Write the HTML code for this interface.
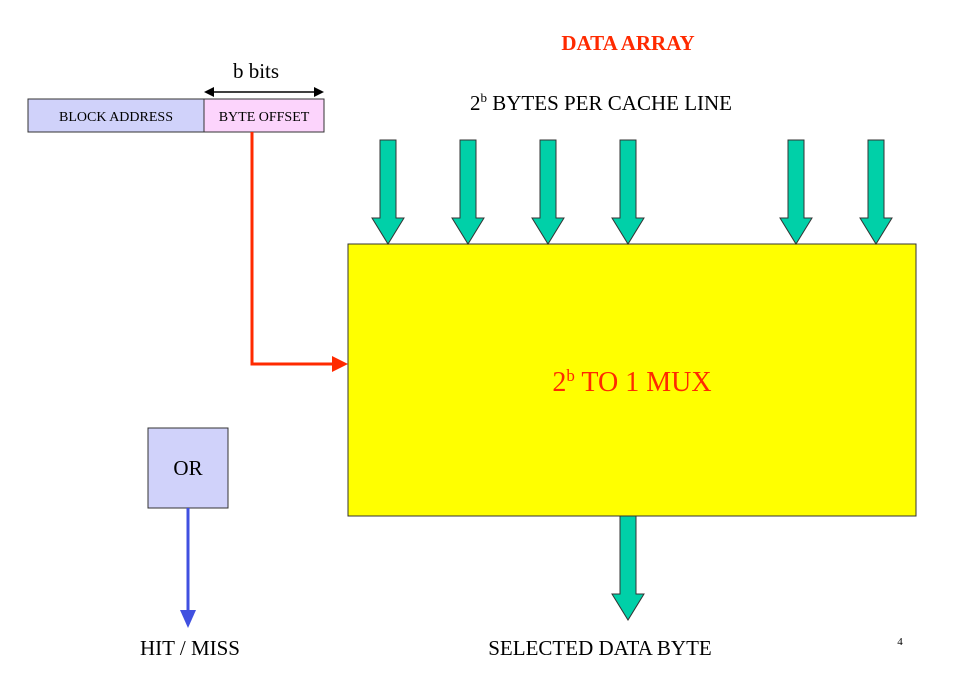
<!DOCTYPE html>
<html><head><style>body{margin:0;background:#fff}</style></head><body>
<svg width="956" height="688" xmlns="http://www.w3.org/2000/svg" font-family="Liberation Serif, serif">
<text x="628" y="50" font-size="21" font-weight="bold" fill="#ff2a00" text-anchor="middle">DATA   ARRAY</text>
<text x="470" y="110" font-size="21">2<tspan font-size="13" dy="-8">b</tspan><tspan dy="8"> BYTES PER CACHE LINE</tspan></text>
<text x="256" y="78" font-size="21" text-anchor="middle">b bits</text>
<line x1="212" y1="92" x2="316" y2="92" stroke="#000" stroke-width="1.5"/>
<polygon points="204,92 214,87 214,97" fill="#000"/><polygon points="324,92 314,87 314,97" fill="#000"/>
<rect x="28" y="99" width="176" height="33" fill="#d0d2fa" stroke="#333"/>
<rect x="204" y="99" width="120" height="33" fill="#fcd4fc" stroke="#333"/>
<text x="116" y="121" font-size="14" text-anchor="middle">BLOCK ADDRESS</text>
<text x="264" y="121" font-size="14" text-anchor="middle">BYTE OFFSET</text>
<polyline points="252,132 252,364 334,364" fill="none" stroke="#ff2a00" stroke-width="3"/>
<polygon points="348,364 332,356 332,372" fill="#ff2a00"/>
<rect x="348" y="244" width="568" height="272" fill="#ffff00" stroke="#333"/>
<text x="632" y="391" font-size="28" fill="#ff2a00" text-anchor="middle">2<tspan font-size="17" dy="-10">b</tspan><tspan dy="10"> TO  1 MUX</tspan></text>
<g fill="#00d0a8" stroke="#333" stroke-width="1">
<polygon points="380,140 396,140 396,218 404,218 388,244 372,218 380,218"/>
<polygon points="460,140 476,140 476,218 484,218 468,244 452,218 460,218"/>
<polygon points="540,140 556,140 556,218 564,218 548,244 532,218 540,218"/>
<polygon points="620,140 636,140 636,218 644,218 628,244 612,218 620,218"/>
<polygon points="788,140 804,140 804,218 812,218 796,244 780,218 788,218"/>
<polygon points="868,140 884,140 884,218 892,218 876,244 860,218 868,218"/>
<polygon points="620,516 636,516 636,594 644,594 628,620 612,594 620,594"/>
</g>
<rect x="148" y="428" width="80" height="80" fill="#d0d2fa" stroke="#333"/>
<text x="188" y="475" font-size="21" text-anchor="middle">OR</text>
<line x1="188" y1="508" x2="188" y2="612" stroke="#4050e0" stroke-width="3"/>
<polygon points="188,628 180,610 196,610" fill="#4050e0"/>
<text x="190" y="655" font-size="21" text-anchor="middle">HIT / MISS</text>
<text x="600" y="655" font-size="21" text-anchor="middle">SELECTED DATA BYTE</text>
<text x="900" y="645" font-size="11" text-anchor="middle">4</text>
</svg>
</body></html>
